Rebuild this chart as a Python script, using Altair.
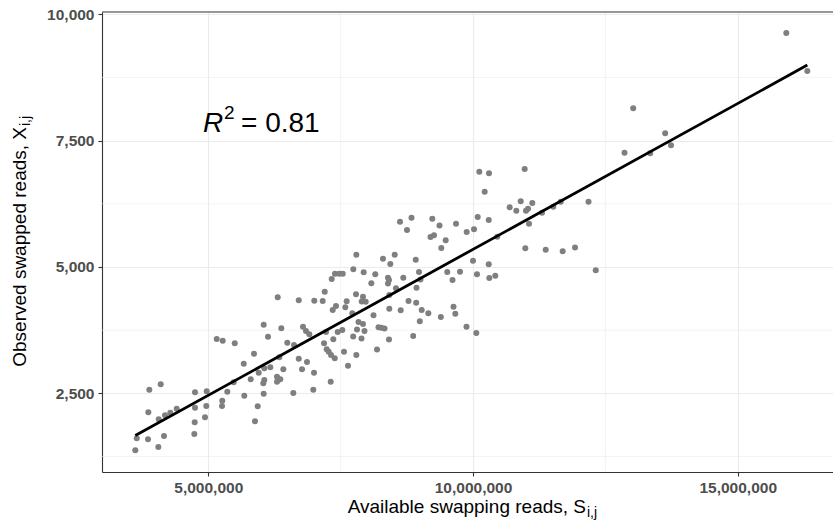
import altair as alt
import pandas as pd

# ---- data (available reads S_ij, observed swapped reads X_ij)
available_reads_m = [
    3.621, 3.648, 3.861, 3.867, 3.886, 4.056, 4.063, 4.101, 4.163, 4.182, 4.282, 4.403,
    4.736, 4.743, 4.749, 4.749, 4.938, 4.962, 4.970, 5.159, 5.272, 5.259, 5.264, 5.359,
    5.499, 5.480,
    5.669, 5.680, 5.801, 5.863, 5.882, 5.933, 5.952, 6.046, 6.046, 6.058, 6.058, 6.039,
    6.128, 6.171, 6.298, 6.298, 6.311, 6.341, 6.360, 6.379, 6.417, 6.492, 6.606, 6.619,
    6.708, 6.708, 6.770, 6.789, 6.845, 6.864, 6.908, 6.983, 6.997, 7.002, 7.161, 7.199,
    7.186, 7.223, 7.236, 7.274, 7.312, 7.318, 7.331, 7.350, 7.361, 7.388, 7.412, 7.444,
    7.531, 7.563, 7.588, 7.614, 7.639, 7.393, 7.474, 7.539,
    8.753, 9.197, 9.263, 9.484, 9.401, 9.881, 7.796, 8.300, 8.521, 8.438, 8.918, 7.739,
    7.935, 8.154, 8.394, 8.413, 8.394, 8.683, 8.980, 9.008, 9.514, 9.754, 9.613, 8.079,
    8.545, 8.933, 7.790, 7.922, 7.898, 7.973, 8.419, 8.782, 8.927, 8.419, 8.634, 9.031,
    9.156, 9.632, 9.666, 9.392, 7.720, 8.120, 8.995, 7.837, 7.922, 7.809, 7.950, 8.215,
    8.268, 8.328, 9.877, 7.737, 7.894, 8.413, 8.870, 8.187, 7.796, 8.621, 8.838, 9.231,
    9.367, 9.679,
    10.119, 10.302, 10.221, 10.976, 10.019, 10.089, 10.297, 10.693, 10.818, 10.901,
    11.001, 11.039, 11.120, 11.058, 11.303, 11.517, 11.657, 10.459, 10.000, 10.297,
    10.075, 10.308, 10.421, 10.988, 11.373, 11.694, 10.062,
    12.182, 11.927, 12.318, 12.862, 13.026, 13.347, 13.630, 13.740, 15.918, 16.315,
]
observed_swapped = [
    1372, 1609, 1590, 2124, 2571, 1437, 1985, 2678, 1655, 2065, 2116, 2195,
    1695, 1926, 2215, 2520, 2025, 2249, 2540, 3575, 3541, 2249, 2354, 2532,
    3490, 2718,
    3086, 2453, 2777, 3284, 1946, 2243, 2908, 3858, 2492, 2995, 2763, 2698,
    3620, 3015, 2829, 2730, 4400, 3212, 2777, 3786, 2975, 3501, 2506, 3456,
    4340, 3185, 2975, 3818, 3733, 3119, 3668, 2571, 2908, 4333, 4327, 4511,
    3490, 3713, 3371, 3323, 2730, 3258, 4762, 4149, 3569, 3193, 4228, 3713,
    3753, 3323, 4202, 4321, 3046, 4867, 4867, 4867,
    5732, 5593, 5627, 5528, 5375, 5692, 5243, 5164, 5243, 5059, 5144, 4954,
    4895, 4855, 4788, 4742, 4673, 4788, 4901, 4752, 4901, 4906, 4742, 4677,
    4580, 4588, 4459, 4412, 4317, 4311, 4445, 4327, 4293, 4174, 4143, 4149,
    4085, 4214, 4073, 4010, 4083, 4044, 3927, 3911, 3871, 3763, 3733, 3806,
    3798, 3782, 3816, 3624, 3584, 3565, 3634, 3367, 3258, 5896, 5975, 5953,
    5821, 5854,
    6885, 6854, 6490, 6939, 5746, 5989, 5930, 6181, 6114, 6300,
    6114, 6153, 6266, 5856, 6074, 6193, 6292, 5599, 5124, 5053,
    4855, 4782, 4827, 5370, 5342, 5310, 3693,
    6292, 5385, 4934, 7262, 8140, 7252, 7645, 7408, 9630, 8878,
]
available_reads = [round(v * 1_000_000) for v in available_reads_m]

x_major = [5_000_000, 10_000_000, 15_000_000]
x_minor = [7_500_000, 12_500_000]
y_major = [2500, 5000, 7500, 10000]
y_minor = [1250, 3750, 6250, 8750]
x_domain = [2_992_000, 16_800_000]
y_domain = [942, 10046]

x_title = "Available swapping reads, S"
y_title = "Observed swapped reads, X"
subscript = "i,j"
r2_value = "= 0.81"

FONT = "Liberation Sans"
W, H = 731, 460

df = pd.DataFrame({"S": available_reads, "X": observed_swapped})

xscale = alt.Scale(domain=x_domain, nice=False, zero=False)
yscale = alt.Scale(domain=y_domain, nice=False, zero=False)
x_axis = alt.Axis(values=x_major, format=",d", title=None)
y_axis = alt.Axis(values=y_major, format=",d", title=None)

minor_x = alt.Chart(pd.DataFrame({"v": x_minor})).mark_rule(
    color="#EBEBEB", strokeWidth=0.6
).encode(x=alt.X("v:Q", scale=xscale, axis=x_axis))

minor_y = alt.Chart(pd.DataFrame({"v": y_minor})).mark_rule(
    color="#EBEBEB", strokeWidth=0.6
).encode(y=alt.Y("v:Q", scale=yscale, axis=y_axis))

top_border = alt.Chart(pd.DataFrame({"v": [y_domain[1]]})).mark_rule(
    color="#333333", strokeWidth=1.1
).encode(y=alt.Y("v:Q", scale=yscale, axis=y_axis))

points = alt.Chart(df).mark_circle(size=36, color="#7F7F7F", opacity=1).encode(
    x=alt.X("S:Q", scale=xscale, axis=x_axis),
    y=alt.Y("X:Q", scale=yscale, axis=y_axis),
)

fit = alt.Chart(df).transform_regression("S", "X").mark_line(
    color="black", strokeWidth=2.8
).encode(
    x=alt.X("S:Q", scale=xscale, axis=x_axis),
    y=alt.Y("X:Q", scale=yscale, axis=y_axis),
)


def label(text, **kw):
    pos = {k: kw.pop(k) for k in ("x", "y")}
    return alt.Chart(pd.DataFrame({"t": [text]})).mark_text(
        font=FONT, **kw
    ).encode(text="t:N", x=alt.value(pos["x"]), y=alt.value(pos["y"]))


xt_main = label(x_title, x=484, y=501, align="right", baseline="alphabetic",
                fontSize=19, color="black")
xt_sub = label(subscript, x=485, y=505, align="left", baseline="alphabetic",
               fontSize=14, color="black")
yt_main = label(y_title, x=-76.5, y=115, align="right", baseline="alphabetic",
                fontSize=19, color="black", angle=270)
yt_sub = label(subscript, x=-76.5, y=114, align="left", baseline="alphabetic",
               fontSize=14, color="black", angle=270, dy=4)

r_txt = label("R", x=101, y=120, align="left", baseline="alphabetic",
              fontSize=28, fontStyle="italic", color="black")
r_sup = label("2", x=122, y=107, align="left", baseline="alphabetic",
              fontSize=19, color="black")
r_val = label(r2_value, x=139, y=120, align="left", baseline="alphabetic",
              fontSize=28, color="black")

chart = alt.layer(
    minor_x, minor_y, points, fit, top_border,
    xt_main, xt_sub, yt_main, yt_sub, r_txt, r_sup, r_val,
).properties(
    width=W, height=H,
    autosize=alt.AutoSizeParams(type="none"),
    padding={"left": 102, "top": 12, "right": 0, "bottom": 55},
    background="white",
).configure_view(stroke=None).configure_axis(
    grid=True, gridColor="#EBEBEB", gridWidth=1.1,
    domain=True, domainColor="#333333", domainWidth=1.1,
    ticks=True, tickColor="#333333", tickSize=4, tickWidth=1.1,
    labelFont=FONT, labelFontWeight="bold", labelFontSize=15.5,
    labelColor="#4D4D4D", labelPadding=4,
)

chart.save("out.html", embed_options={"renderer": "svg", "actions": False})
